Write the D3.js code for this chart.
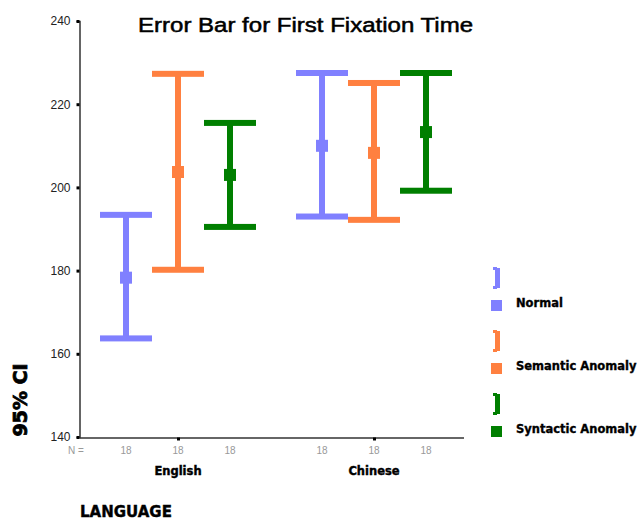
<!DOCTYPE html>
<html>
<head>
<meta charset="utf-8">
<script src="https://cdn.jsdelivr.net/npm/d3@7/dist/d3.min.js"></script>
<style>
  body { margin: 0; background: #fff; }
  svg { display: block; }
</style>
</head>
<body>
<script>
// Groups and series
const languages = ["English", "Chinese"];
const series = ["Normal", "Semantic Anomaly", "Syntactic Anomaly"];
const colors = ["#8080ff", "#ff8040", "#007f00"];

// 95% confidence intervals of first fixation time (ms), per language, per series
const means = [
  [178.3, 203.7, 203.0],
  [210.0, 208.3, 213.3]
];
const lower = [
  [163.7, 180.2, 190.5],
  [193.0, 192.2, 199.2]
];
const upper = [
  [193.4, 227.3, 215.5],
  [227.5, 225.1, 227.5]
];
const counts = [
  [18, 18, 18],
  [18, 18, 18]
];
const yTicks = [140, 160, 180, 200, 220, 240];

const W = 644, H = 520;
const svg = d3.select("body").append("svg").attr("width", W).attr("height", H);

const x = d3.scalePoint().domain(languages).range([178, 374]);
const xs = d3.scalePoint().domain(series).range([-52, 52]);
const y = d3.scaleLinear().domain([140, 240]).range([437, 21]);

const heavy = "'DejaVu Sans', 'Liberation Sans', sans-serif";
const plain = "'Liberation Sans', Arial, sans-serif";

// Title
svg.append("text")
  .attr("x", 138).attr("y", 32)
  .attr("textLength", 335).attr("lengthAdjust", "spacingAndGlyphs")
  .style("font-family", plain)
  .style("font-size", "20px")
  .attr("fill", "#000").attr("stroke", "#000").attr("stroke-width", 0.5)
  .text("Error Bar for First Fixation Time");

// Y axis
const yAxis = svg.append("g").attr("transform", "translate(79.5,0)")
  .call(d3.axisLeft(y).tickValues(yTicks).tickSize(3).tickPadding(6));
yAxis.select(".domain").attr("stroke", "#333").attr("stroke-width", 1.5);
yAxis.selectAll(".tick line").attr("stroke", "#000").attr("stroke-width", 3);
yAxis.selectAll(".tick text")
  .style("font-family", plain)
  .style("font-size", "12px").attr("fill", "#222");

// X axis
const xAxis = svg.append("g").attr("transform", "translate(0,437.5)")
  .call(d3.axisBottom(x).tickSize(3).tickFormat(""));
xAxis.select(".domain").attr("d", "M79.5,0.5H464").attr("stroke", "#333").attr("stroke-width", 1.5);
xAxis.selectAll(".tick line").attr("stroke", "#000").attr("stroke-width", 3);

// N row
svg.append("text").attr("x", 68).attr("y", 454)
  .style("font-family", plain)
  .style("font-size", "10px").attr("fill", "#999").text("N =");
languages.forEach((lang, i) => {
  series.forEach((s, j) => {
    svg.append("text")
      .attr("x", x(lang) + xs(s)).attr("y", 454)
      .attr("text-anchor", "middle")
      .style("font-family", plain)
      .style("font-size", "10px").attr("fill", "#999")
      .text(counts[i][j]);
  });
});

// Category labels
svg.selectAll("text.cat").data(languages).join("text")
  .attr("class", "cat")
  .attr("x", d => x(d)).attr("y", 475)
  .attr("text-anchor", "middle")
  .style("font-family", heavy).style("font-weight", "bold")
  .style("font-size", "11.5px").attr("fill", "#000")
  .attr("stroke", "#000").attr("stroke-width", 0.4)
  .text(d => d);

// Axis titles
svg.append("text").attr("x", 80).attr("y", 517)
  .style("font-family", heavy).style("font-weight", "bold")
  .style("font-size", "15px").attr("fill", "#000")
  .attr("stroke", "#000").attr("stroke-width", 0.4)
  .text("LANGUAGE");

svg.append("text")
  .attr("transform", "translate(27,400) rotate(-90)")
  .attr("text-anchor", "middle")
  .style("font-family", heavy).style("font-weight", "bold")
  .style("font-size", "19px").attr("fill", "#000")
  .attr("stroke", "#000").attr("stroke-width", 0.8)
  .text("95% CI");

// Error bars
const capW = 52, capT = 6, barW = 6, mk = 12;
languages.forEach((lang, i) => {
  series.forEach((s, j) => {
    const cx = x(lang) + xs(s);
    const g = svg.append("g").attr("fill", colors[j]);
    g.append("rect").attr("x", cx - barW / 2).attr("width", barW)
      .attr("y", y(upper[i][j])).attr("height", y(lower[i][j]) - y(upper[i][j]));
    g.append("rect").attr("x", cx - capW / 2).attr("width", capW)
      .attr("y", y(upper[i][j]) - capT / 2).attr("height", capT);
    g.append("rect").attr("x", cx - capW / 2).attr("width", capW)
      .attr("y", y(lower[i][j]) - capT / 2).attr("height", capT);
    g.append("rect").attr("x", cx - mk / 2).attr("width", mk)
      .attr("y", y(means[i][j]) - mk / 2).attr("height", mk);
  });
});

// Legend
const legendY = d3.scalePoint().domain(series).range([0, 126]);
series.forEach((s, j) => {
  const gy = 267 + legendY(s);
  const g = svg.append("g").attr("fill", colors[j]);
  g.append("rect").attr("x", 495).attr("y", gy + 1).attr("width", 5).attr("height", 20);
  g.append("rect").attr("x", 493).attr("y", gy).attr("width", 4).attr("height", 3);
  g.append("rect").attr("x", 493).attr("y", gy + 19).attr("width", 4).attr("height", 3);
  g.append("rect").attr("x", 491).attr("y", gy + 33).attr("width", 11).attr("height", 11);
  svg.append("text").attr("x", 516).attr("y", gy + 40)
    .style("font-family", heavy).style("font-weight", "bold")
    .style("font-size", "11.5px").attr("fill", "#000")
    .attr("stroke", "#000").attr("stroke-width", 0.35)
    .text(s);
});
</script>
</body>
</html>
